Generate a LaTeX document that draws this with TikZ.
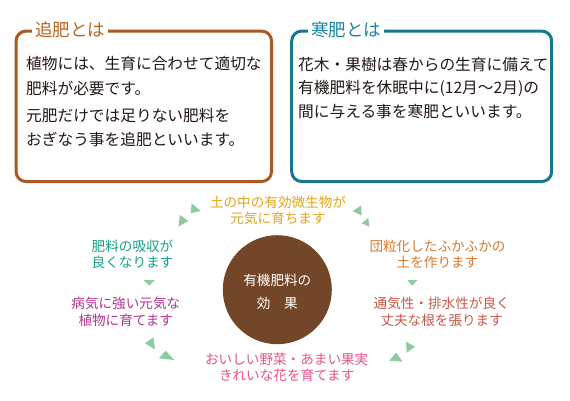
\documentclass[tikz,border=0pt]{standalone}
\usepackage{fontspec}
\setmainfont{Noto Sans CJK JP}
\definecolor{boxbrown}{HTML}{A85A22}
\definecolor{titlebrown}{HTML}{B5661F}
\definecolor{boxteal}{HTML}{18788F}
\definecolor{titleteal}{HTML}{1A86A0}
\definecolor{bodytext}{HTML}{231815}
\definecolor{cgold}{HTML}{E2A51E}
\definecolor{cgreen}{HTML}{17A08A}
\definecolor{corange}{HTML}{D67A30}
\definecolor{cmagenta}{HTML}{B2358F}
\definecolor{cred}{HTML}{C65A4C}
\definecolor{cpink}{HTML}{E5548C}
\definecolor{cbrown}{HTML}{744629}
\definecolor{tri}{HTML}{8FCB9D}
\begin{document}
\begin{tikzpicture}[x=1pt,y=-1pt,
  infobox/.style={draw=#1, line width=3pt, rounded corners=10pt, minimum height=150.5pt, inner sep=0pt, fill=none},
  boxtitle/.style={fill=white, text=#1, font=\fontsize{17.5}{20}\selectfont, inner xsep=3pt, inner ysep=0pt},
  bodyline/.style={anchor=west, inner sep=0pt, text=bodytext, font=\fontsize{15.7}{18}\selectfont},
  effect/.style={align=center, inner sep=0pt, text=#1, font=\fontsize{13.6}{16}\selectfont},
  tripath/.style={fill=tri}]
\useasboundingbox (0,0) rectangle (570,400);
\fill[white] (0,0) rectangle (570,400);
% boxes
\node[infobox=boxbrown, minimum width=255.5pt] (lbox) at (143.8,106.3) {};
\node[infobox=boxteal, minimum width=260pt] (rbox) at (421.7,106.3) {};
\node[boxtitle=titlebrown] (ltitle) at (70,30) {追肥とは};
\node[boxtitle=titleteal] (rtitle) at (346,30) {寒肥とは};
% left body
\node[bodyline] (l1) at (26,63.5) {植物には、生育に合わせて適切な};
\node[bodyline] (l2) at (26,88.5) {肥料が必要です。};
\node[bodyline] (l3) at (26,115.5) {元肥だけでは足りない肥料を};
\node[bodyline] (l4) at (26,139.5) {おぎなう事を追肥といいます。};
% right body
\node[bodyline] (r1) at (298,65) {花木・果樹は春からの生育に備えて};
\node[bodyline] (r2) at (298,88.5) {有機肥料を休眠中に(12月〜2月)の};
\node[bodyline] (r3) at (298,112) {間に与える事を寒肥といいます。};
% circle
\node[circle, fill=cbrown, minimum size=109pt, inner sep=0pt] (core) at (277.3,289.7) {};
\node[align=center, inner sep=0pt, text=white, font=\fontsize{13.6}{23.3}\selectfont] (coretext) at (277.3,291.7) {有機肥料の\\効　果};
% effects
\node[effect=cgold] (top) at (278,210.3) {土の中の有効微生物が\\元気に育ちます};
\node[effect=cgreen] (left) at (132.5,254.5) {肥料の吸収が\\良くなります};
\node[effect=corange] (right) at (437.5,254.5) {団粒化したふかふかの\\土を作ります};
\node[effect=cmagenta, font=\fontsize{13.6}{16.7}\selectfont] (lmid) at (125.8,311.7) {病気に強い元気な\\植物に育てます};
\node[effect=cred, font=\fontsize{13.6}{16.7}\selectfont] (rmid) at (441.7,311.7) {通気性・排水性が良く\\丈夫な根を張ります};
\node[effect=cpink, font=\fontsize{13.6}{15.5}\selectfont] (bottom) at (286.7,367.5) {おいしい野菜・あまい果実\\きれいな花を育てます};
% triangles
\fill[tripath] (191.7,203.3) -- (200.7,211) -- (190.7,213.3) -- cycle;
\fill[tripath] (180,215) -- (188.3,221) -- (178.3,226.7) -- cycle;
\fill[tripath] (352.7,211) -- (361,205.7) -- (361.7,215.7) -- cycle;
\fill[tripath] (361.7,223.3) -- (368.3,217.7) -- (369.3,226.7) -- cycle;
\fill[tripath] (143.3,280) -- (155,280) -- (149.3,285.5) -- cycle;
\fill[tripath] (407.3,280) -- (417.5,280) -- (412.3,285.5) -- cycle;
\fill[tripath] (145,343.3) -- (153.3,337.3) -- (155,349.3) -- cycle;
\fill[tripath] (159,358.3) -- (165.7,350.7) -- (174.3,360) -- cycle;
\fill[tripath] (406,341.7) -- (415,346.7) -- (406.7,352.7) -- cycle;
\fill[tripath] (389.3,360.7) -- (396,352.7) -- (402.7,361.7) -- cycle;
\end{tikzpicture}
\end{document}
